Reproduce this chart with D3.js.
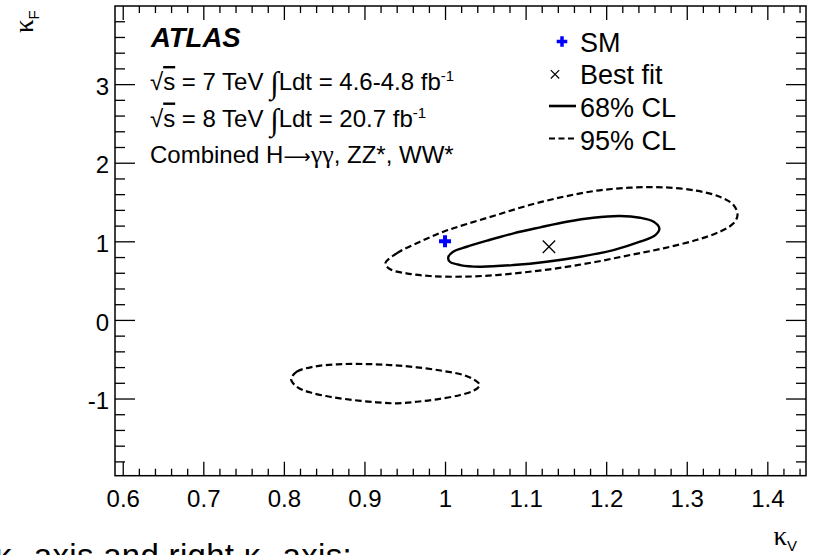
<!DOCTYPE html>
<html>
<head>
<meta charset="utf-8">
<script src="https://cdn.jsdelivr.net/npm/d3@7"></script>
<style>
  html, body { margin: 0; padding: 0; background: #fff; }
  svg { display: block; }
  text { font-family: "Liberation Sans", Arial, Helvetica, sans-serif; fill: #000; }
  .greek { font-family: "Liberation Serif", "DejaVu Serif", serif; }
</style>
</head>
<body>
<svg id="chart" width="816" height="555"></svg>
<script>
// Combined coupling fit in the (kappa_V, kappa_F) plane.
// Contour vertices are [kappa_V, kappa_F].
const contour68 = [
  [1.004, 0.796], [1.010, 0.868], [1.027, 0.931], [1.052, 1.008], [1.085, 1.102],
  [1.118, 1.178], [1.151, 1.249], [1.184, 1.300], [1.217, 1.322], [1.242, 1.300],
  [1.259, 1.249], [1.266, 1.165], [1.261, 1.080], [1.242, 0.995], [1.209, 0.889],
  [1.168, 0.804], [1.126, 0.740], [1.085, 0.698], [1.043, 0.677], [1.019, 0.698],
  [1.006, 0.740]
];
const contour95Upper = [
  [0.926, 0.720], [0.940, 0.847], [0.969, 0.995], [0.998, 1.122], [1.027, 1.220],
  [1.064, 1.335], [1.105, 1.462], [1.147, 1.567], [1.188, 1.644], [1.230, 1.682],
  [1.271, 1.687], [1.312, 1.644], [1.341, 1.567], [1.358, 1.462], [1.363, 1.335],
  [1.358, 1.229], [1.341, 1.122], [1.312, 1.017], [1.271, 0.911], [1.230, 0.826],
  [1.188, 0.740], [1.147, 0.669], [1.105, 0.613], [1.064, 0.571], [1.023, 0.550],
  [0.981, 0.559], [0.952, 0.593], [0.932, 0.644]
];
const contour95Lower = [
  [0.809, -0.756], [0.816, -0.659], [0.837, -0.595], [0.866, -0.565], [0.899, -0.561],
  [0.932, -0.574], [0.965, -0.603], [0.998, -0.650], [1.023, -0.701], [1.037, -0.766],
  [1.043, -0.828], [1.037, -0.892], [1.019, -0.955], [0.990, -1.010], [0.965, -1.041],
  [0.940, -1.061], [0.915, -1.048], [0.886, -1.019], [0.857, -0.977], [0.832, -0.921],
  [0.816, -0.850]
];
const smPoint = [1.0, 1.0];
const bestFit = [1.129, 0.931];

const xTickLabels = [0.6, 0.7, 0.8, 0.9, 1, 1.1, 1.2, 1.3, 1.4];
const yTickLabels = [-1, 0, 1, 2, 3];
const legendLabels = ["SM", "Best fit", "68% CL", "95% CL"];

// ---- frame and scales ----
const frame = { left: 115, right: 806, top: 6, bottom: 475.7 };
const x = d3.scaleLinear().domain([0.5904, 1.4480]).range([frame.left, frame.right]);
const y = d3.scaleLinear().domain([-1.982, 3.994]).range([frame.bottom, frame.top]);

const svg = d3.select("#chart");

// minor tick positions
const xMinor = d3.range(0.6, 1.4481, 0.02).map(v => +v.toFixed(2))
  .filter(v => Math.abs(v * 10 - Math.round(v * 10)) > 1e-6);
const yMinor = d3.range(-1.8, 3.99, 0.2).map(v => +v.toFixed(1))
  .filter(v => Math.abs(v - Math.round(v)) > 1e-6);

function tickAxis(axisFn, scale, values, size, transform) {
  const g = svg.append("g").attr("transform", transform)
    .call(axisFn(scale).tickValues(values).tickSize(size).tickSizeOuter(0).tickFormat(""));
  g.select(".domain").remove();
  g.selectAll(".tick line").attr("stroke", "#000").attr("stroke-width", 1.3);
  return g;
}

// bottom / top ticks (pointing into the frame)
tickAxis(d3.axisBottom, x, xTickLabels, -14, `translate(0,${frame.bottom})`);
tickAxis(d3.axisBottom, x, xMinor, -7, `translate(0,${frame.bottom})`);
tickAxis(d3.axisTop, x, xTickLabels, -14, `translate(0,${frame.top})`);
tickAxis(d3.axisTop, x, xMinor, -7, `translate(0,${frame.top})`);
// left / right ticks
tickAxis(d3.axisLeft, y, yTickLabels, -20, `translate(${frame.left},0)`);
tickAxis(d3.axisLeft, y, yMinor, -10, `translate(${frame.left},0)`);
tickAxis(d3.axisRight, y, yTickLabels, -20, `translate(${frame.right},0)`);
tickAxis(d3.axisRight, y, yMinor, -10, `translate(${frame.right},0)`);

// tick labels
const xLab = svg.append("g").attr("transform", `translate(0,${frame.bottom})`)
  .call(d3.axisBottom(x).tickValues(xTickLabels).tickSize(0).tickPadding(14)
    .tickFormat(d => String(d)));
xLab.select(".domain").remove();
xLab.selectAll("text").attr("font-size", 24)
  .attr("font-family", "'Liberation Sans', Arial, sans-serif");

const yLab = svg.append("g").attr("transform", `translate(${frame.left},0)`)
  .call(d3.axisLeft(y).tickValues(yTickLabels).tickSize(0).tickPadding(6)
    .tickFormat(d => String(d)));
yLab.select(".domain").remove();
yLab.selectAll("text").attr("font-size", 24).attr("dy", "0.42em")
  .attr("font-family", "'Liberation Sans', Arial, sans-serif");

// frame
svg.append("rect")
  .attr("x", frame.left).attr("y", frame.top)
  .attr("width", frame.right - frame.left).attr("height", frame.bottom - frame.top)
  .attr("fill", "none").attr("stroke", "#000").attr("stroke-width", 1.5);

// ---- contours ----
const contourLine = d3.line()
  .x(d => x(d[0])).y(d => y(d[1]))
  .curve(d3.curveCatmullRomClosed.alpha(0.5));

svg.append("path").datum(contour95Upper).attr("d", contourLine)
  .attr("fill", "none").attr("stroke", "#000").attr("stroke-width", 2.2)
  .attr("stroke-dasharray", "6.5,3.5");
svg.append("path").datum(contour95Lower).attr("d", contourLine)
  .attr("fill", "none").attr("stroke", "#000").attr("stroke-width", 2.2)
  .attr("stroke-dasharray", "6.5,3.5");
svg.append("path").datum(contour68).attr("d", contourLine)
  .attr("fill", "none").attr("stroke", "#000").attr("stroke-width", 2.4);

// SM expectation
svg.append("path")
  .attr("d", d3.symbol(d3.symbolCross, 80)())
  .attr("transform", `translate(${x(smPoint[0])},${y(smPoint[1])})`)
  .attr("fill", "#0000ff");

// best-fit marker
function timesMark(g, cx, cy, h, w) {
  g.append("path")
    .attr("d", `M${cx - h},${cy - h}L${cx + h},${cy + h}M${cx - h},${cy + h}L${cx + h},${cy - h}`)
    .attr("stroke", "#000").attr("stroke-width", w).attr("fill", "none");
}
timesMark(svg, x(bestFit[0]), y(bestFit[1]), 6.2, 1.3);

// ---- legend ----
const legendX = 580;
const legendBase = [51.5, 84, 117, 150];
const leg = svg.append("g");
legendLabels.forEach((t, i) => {
  leg.append("text").attr("x", legendX).attr("y", legendBase[i])
    .attr("font-size", 27).text(t);
});
leg.append("path")
  .attr("d", d3.symbol(d3.symbolCross, 62)())
  .attr("transform", "translate(562,41.5)")
  .attr("fill", "#0000ff");
timesMark(leg, 555, 74.3, 4.2, 1.2);
leg.append("line").attr("x1", 549).attr("x2", 576).attr("y1", 106).attr("y2", 106)
  .attr("stroke", "#000").attr("stroke-width", 2.6);
leg.append("line").attr("x1", 549).attr("x2", 576).attr("y1", 138.5).attr("y2", 138.5)
  .attr("stroke", "#000").attr("stroke-width", 2.2).attr("stroke-dasharray", "6,3.5");

// ---- experiment label and dataset text ----
svg.append("text").attr("x", 151).attr("y", 47)
  .attr("font-size", 27.5).attr("font-weight", "bold").attr("font-style", "italic")
  .text("ATLAS");

function lumiLine(yBase, energy, lumi) {
  const t = svg.append("text").attr("x", 150).attr("y", yBase).attr("font-size", 24);
  t.append("tspan").text("√");
  t.append("tspan").attr("text-decoration", "overline").text("s");
  t.append("tspan").text(` = ${energy} TeV `);
  t.append("tspan").attr("class", "greek").attr("font-size", 31).attr("dy", 3).text("∫");
  t.append("tspan").attr("dy", -3).text(`Ldt = ${lumi} fb`);
  t.append("tspan").attr("font-size", 15).attr("dy", -9).text("-1");
}
lumiLine(90, 7, "4.6-4.8");
lumiLine(126.5, 8, "20.7");

const comb = svg.append("text").attr("x", 150).attr("y", 163).attr("font-size", 24);
comb.append("tspan").text("Combined H");
comb.append("tspan").attr("font-family", "'DejaVu Sans', sans-serif").attr("font-size", 19).text("⟶");
comb.append("tspan").attr("class", "greek").attr("font-size", 26).text("γγ");
comb.append("tspan").text(", ZZ*, WW*");

// ---- axis titles ----
const yTitle = svg.append("text")
  .attr("transform", "translate(33,33) rotate(-90)")
  .attr("font-size", 27);
yTitle.append("tspan").attr("class", "greek").text("κ");
yTitle.append("tspan").attr("font-size", 15).attr("dy", 6).text("F");

const xTitle = svg.append("text")
  .attr("x", 797).attr("y", 545).attr("text-anchor", "end")
  .attr("font-size", 27);
xTitle.append("tspan").attr("class", "greek").text("κ");
xTitle.append("tspan").attr("font-size", 15).attr("dy", 6).text("V");

// ---- caption line below the figure ----
const cap = svg.append("text").attr("x", -5).attr("y", 566.5)
  .attr("font-family", "'Open Sans', sans-serif").attr("font-size", 33)
  .attr("letter-spacing", 0.3);
cap.append("tspan").text("κ");
cap.append("tspan").attr("font-size", 20).attr("dy", 7).text("F");
cap.append("tspan").attr("dy", -7).text(" axis and right κ");
cap.append("tspan").attr("font-size", 20).attr("dy", 7).text("F");
cap.append("tspan").attr("dy", -7).text(" axis:");
</script>
</body>
</html>
